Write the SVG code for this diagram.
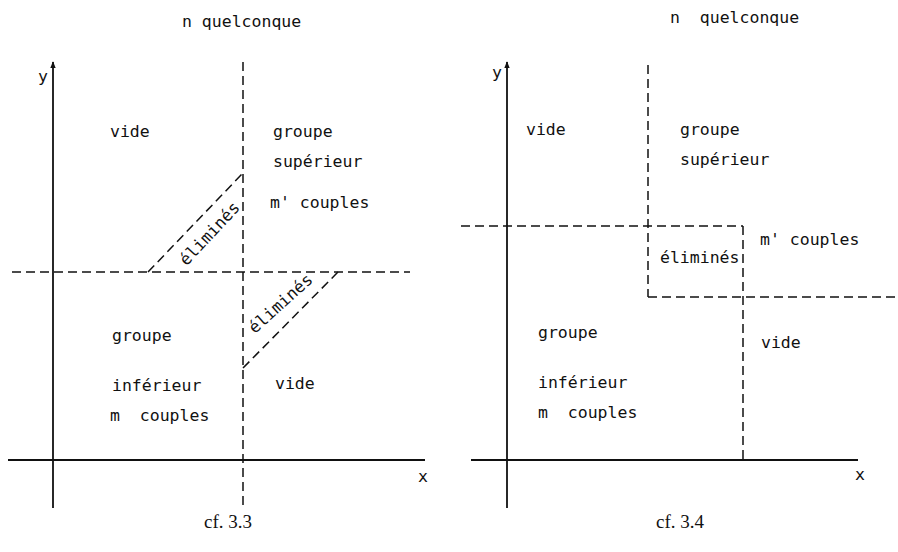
<svg xmlns="http://www.w3.org/2000/svg" width="898" height="552" viewBox="0 0 898 552">
<style>
.t{font-family:"DejaVu Sans Mono","Liberation Mono",monospace;font-size:16.5px;fill:#111;white-space:pre}
.c{font-family:"Liberation Serif","DejaVu Serif",serif;font-size:19px;fill:#111;text-anchor:middle}
.ax{stroke:#111;stroke-width:1.8;fill:none}
.d{stroke:#111;stroke-width:1.5;fill:none;stroke-dasharray:9 5}
</style>
<defs>
<marker id="ar" viewBox="0 0 10 10" refX="9" refY="5" markerWidth="7" markerHeight="9" orient="auto" markerUnits="userSpaceOnUse">
<path d="M0,1 L10,5 L0,9 Z" fill="#111"/>
</marker>
</defs>
<rect width="898" height="552" fill="#fff"/>
<g id="left">
<g id="connectors-left">
<line class="ax" x1="53" y1="508" x2="53" y2="62" marker-end="url(#ar)"/>
<line class="ax" x1="8" y1="460" x2="425" y2="460"/>
<line class="d" x1="243" y1="62" x2="243" y2="508"/>
<line class="d" x1="12" y1="272" x2="410" y2="272"/>
<line class="d" x1="148" y1="272" x2="243" y2="173"/>
<line class="d" x1="243" y1="368" x2="338" y2="272"/>
</g>
<text class="t" x="182" y="27">n quelconque</text>
<text class="t" x="38" y="82">y</text>
<text class="t" x="418" y="482">x</text>
<g id="l-vide1"><text class="t" x="110" y="137">vide</text></g>
<g id="l-sup"><text class="t" x="273" y="137">groupe</text><text class="t" x="273" y="167">supérieur</text><text class="t" x="270" y="208">m' couples</text></g>
<g id="l-elim1"><text class="t" transform="translate(210,234) rotate(-47)" x="0" y="5" text-anchor="middle">éliminés</text></g>
<g id="l-elim2"><text class="t" transform="translate(281,304) rotate(-42)" x="0" y="5" text-anchor="middle">éliminés</text></g>
<g id="l-inf"><text class="t" x="112" y="341">groupe</text><text class="t" x="112" y="391">inférieur</text><text class="t" x="110" y="421" xml:space="preserve">m  couples</text></g>
<g id="l-vide2"><text class="t" x="275" y="389">vide</text></g>
<text class="c" x="228" y="528">cf. 3.3</text>
</g>
<g id="right">
<g id="connectors-right">
<line class="ax" x1="507" y1="508" x2="507" y2="62" marker-end="url(#ar)"/>
<line class="ax" x1="471" y1="460" x2="858" y2="460"/>
<line class="d" x1="648" y1="65" x2="648" y2="297"/>
<line class="d" x1="461" y1="226" x2="743" y2="226"/>
<line class="d" x1="743" y1="226" x2="743" y2="460"/>
<line class="d" x1="648" y1="297" x2="898" y2="297"/>
</g>
<text class="t" x="670" y="23" xml:space="preserve">n  quelconque</text>
<text class="t" x="492" y="78">y</text>
<text class="t" x="855" y="480">x</text>
<g id="r-vide1"><text class="t" x="526" y="135">vide</text></g>
<g id="r-sup"><text class="t" x="680" y="135">groupe</text><text class="t" x="680" y="165">supérieur</text></g>
<g id="r-mp"><text class="t" x="760" y="245">m' couples</text></g>
<g id="r-elim"><text class="t" x="660" y="263">éliminés</text></g>
<g id="r-inf"><text class="t" x="538" y="338">groupe</text><text class="t" x="538" y="388">inférieur</text><text class="t" x="538" y="418" xml:space="preserve">m  couples</text></g>
<g id="r-vide2"><text class="t" x="761" y="348">vide</text></g>
<text class="c" x="680" y="528">cf. 3.4</text>
</g>
</svg>
